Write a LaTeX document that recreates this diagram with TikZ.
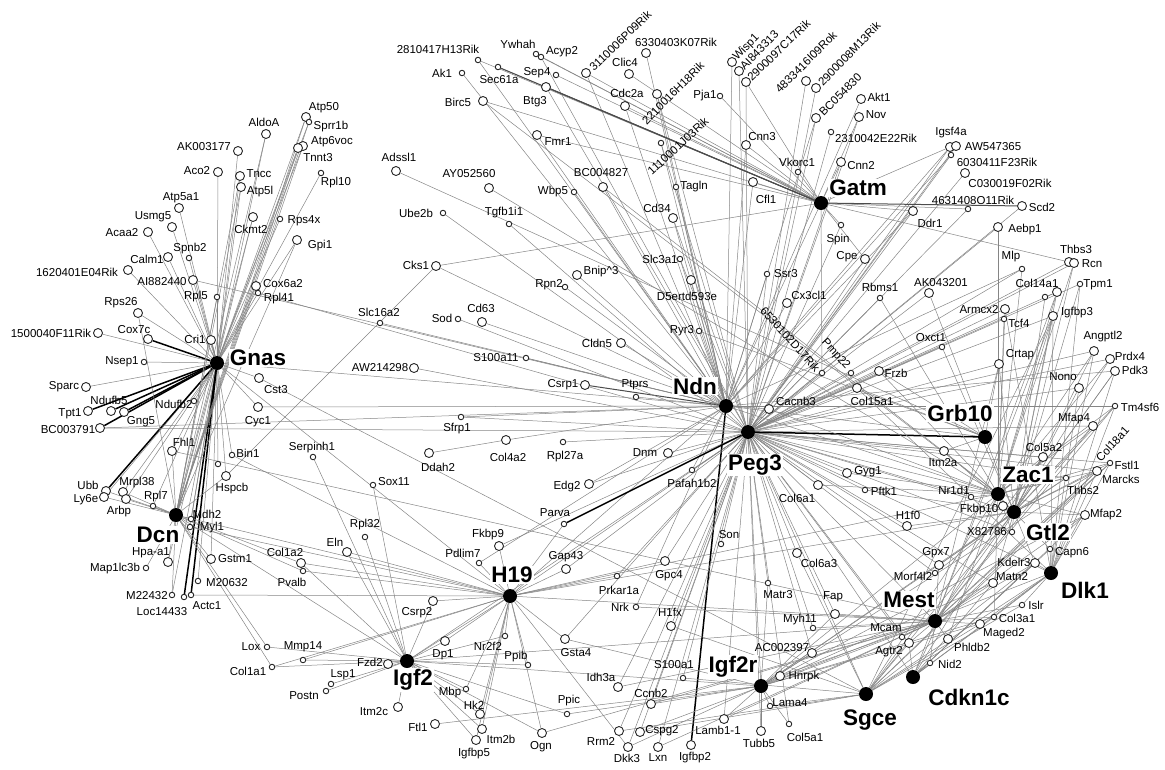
\documentclass[tikz,border=0pt]{standalone}
\usepackage{fontspec}
\setmainfont{Liberation Sans}
\pgfdeclarelayer{bg}
\pgfsetlayers{bg,main}
\begin{document}
\begin{tikzpicture}[x=1pt,y=-1pt,
  gene/.style={circle,draw=black!85,fill=white,line width=0.9pt,inner sep=0pt},
  hub/.style={circle,fill=black,inner sep=0pt,minimum size=14pt},
  lab/.style={font=\fontsize{11.5}{13}\selectfont,inner sep=0pt},
  hublab/.style={font=\bfseries\fontsize{22.5}{24}\selectfont,fill=white,inner sep=1pt},
  edge/.style={draw=black!48,line width=0.5pt},
  strong/.style={draw=black,line width=1.5pt},
  mid/.style={draw=black!70,line width=1pt}]
\useasboundingbox (0,0) rectangle (1165,769);

% hubs
\foreach \nm/\xx/\yy/\lx/\ly in {
Gnas/217/363/258/358,Dcn/176/515/158/535,H19/510/596/512/575,Igf2/407/661/413/680,
Ndn/726/406/695/386,Peg3/748/432/755/465,Gatm/821/203/858/188,Grb10/985/437/960/413,
Zac1/998/494/1028/475,Gtl2/1014/512/1048/532,Dlk1/1051/573/1085/590,Mest/935/621/909/600,
Cdkn1c/913/677/969/697,Sgce/866/694/870/720,Igf2r/761/686/733/667}{
  \node[hub] (\nm) at (\xx,\yy) {};
  \node[hublab] (l\nm) at (\lx,\ly) {\nm};
}

% labelled genes
\foreach \nm/\xx/\yy/\sz/\lx/\ly/\lbl in {
AldoA/266/134/9/264/122/AldoA,
AK003177/238/151/9/204/147/AK003177,
Aco2/218/172/9/197/171/Aco2,
Tncc/240/176/9/259/174/Tncc,
Atp5l/241/187/9/260/192/Atp5l,
Atp5a1/179/208/9/181/198/Atp5a1,
Ckmt2/253/217/9/251/229/Ckmt2,
Rps4x/280/219/5.5/304/221/Rps4x,
Usmg5/172/227/9/153/217/Usmg5,
Acaa2/148/232/9/122/233/Acaa2,
Gpi1/297/240/9/320/246/Gpi1,
Atp50/306/117/9/324/108/Atp50,
Sprr1b/309/122/5.5/331/127/Sprr1b,
Atp6voc/303/146/9/332/142/Atp6voc,
Tnnt3/298/148/9/318/158/Tnnt3,
Rpl10/321/173/5.5/336/183/Rpl10,
Calm1/168/257/9/147/259/Calm1,
Spnb2/189/258/5.5/190/249/Spnb2,
r1620401E04Rik/128/270/9/77/272/1620401E04Rik,
AI882440/193/280/9/162/282/AI882440,
Rpl5/217/297/5.5/196/297/Rpl5,
Cox6a2/256/286/9/283/284/Cox6a2,
Rpl41/258/293/5.5/279/299/Rpl41,
Rps26/138/313/9/121/303/Rps26,
r1500040F11Rik/98/333/9/51/333/1500040F11Rik,
Cox7c/148/339/9/134/330/Cox7c,
Cri1/211/340/9/195/339/Cri1,
Nsep1/144/362/5.5/122/362/Nsep1,
Cst3/259/378/9/276/390/Cst3,
Sparc/86/387/9/64/387/Sparc,
Ndufb5/111/411/9/109/400/Ndufb5,
Tpt1/88/411/9/70/414/Tpt1,
Ndufb2/194/401/5.5/174/404/Ndufb2,
Gng5/124/412/9/141/422/Gng5,
Cyc1/258/407/9/258/422/Cyc1,
BC003791/100/428/9/68/430/BC003791,
Fhl1/172/451/9/184/442/Fhl1,
Bin1/232/455/5.5/248/453/Bin1,
Hspcb/226/476/9/232/489/Hspcb,
Ubb/106/491/9/88/485/Ubb,
Ly6e/104/497/9/86/500/Ly6e,
Mrpl38/123/492/9/137/483/Mrpl38,
Arbp/126/499/9/119/512/Arbp,
Rpl7/153/506/5.5/156/497/Rpl7,
Mdh2/191/519/5.5/207/514/Mdh2,
Myl1/190/527/5.5/212/528/Myl1,
Hpaa1/168/562/9/151/553/Hpa-a1,
Map1lc3b/146/568/5.5/115/569/Map1lc3b,
Gstm1/211/559/9/235/559/Gstm1,
M20632/198/581/5.5/227/583/M20632,
M22432/172/595/5.5/147/596/M22432,
Loc14433/184/597/5.5/162/612/Loc14433,
Actc1/191/595/5.5/207/606/Actc1,
Lox/267/647/5.5/251/647/Lox,
Col1a1/272/667/5.5/248/671/Col1a1,
Adssl1/396/171/9/399/157/Adssl1,
AY052560/489/188/9/469/174/AY052560,
Ube2b/443/213/5.5/416/213/Ube2b,
Tgfb1i1/509/224/5.5/504/213/Tgfb1i1,
Ak1/462/73/5.5/442/73/Ak1,
Birc5/483/101/9/458/102/Birc5,
Fmr1/537/135/9/558/142/Fmr1,
Wbp5/574/192/5.5/553/192/Wbp5,
BC004827/603/187/9/601/173/BC004827,
r2810417H13Rik/478/60/5.5/438/49/2810417H13Rik,
Ywhah/536/54/5.5/518/44/Ywhah,
Acyp2/541/57/5.5/562/52/Acyp2,
Sec61a/498/67/5.5/499/80/Sec61a,
Sep4/556/75/5.5/537/73/Sep4,
Btg3/546/87/9/535/102/Btg3,
Cks1/436/266/9/416/265/Cks1,
Rpn2/565/287/5.5/549/285/Rpn2,
Bnip3/577/275/9/601/272/Bnip\textasciicircum3,
Slc16a2/380/323/5.5/379/312/Slc16a2,
Sod/458/319/5.5/442/318/Sod,
Cd63/482/322/9/481/308/Cd63,
S100a11/526/358/5.5/496/358/S100a11,
AW214298/414/368/9/380/368/AW214298,
Csrp1/585/385/9/563/385/Csrp1,
Ptprs/636/397/5.5/635/385/Ptprs,
Sfrp1/461/417/5.5/457/429/Sfrp1,
Ddah2/429/453/9/438/467/Ddah2,
Col4a2/506/440/9/508/457/Col4a2,
Rpl27a/563/442/5.5/565/457/Rpl27a,
Edg2/589/484/9/567/487/Edg2,
Serpinh1/313/457/5.5/312/448/Serpinh1,
Sox11/373/485/5.5/394/482/Sox11,
Cldn5/621/343/9/597/343/Cldn5,
Slc3a1/680/259/5.5/660/259/Slc3a1,
D5ertd593e/691/280/9/687/296/D5ertd593e,
Ryr3/699/331/5.5/682/331/Ryr3,
Ssr3/767/274/5.5/786/274/Ssr3,
Cx3cl1/787/303/9/809/295/Cx3cl1,
Cacnb3/769/409/9/796/401/Cacnb3,
Dnm/668/453/9/645/453/Dnm,
Pafah1b2/692/470/5.5/692/483/Pafah1b2,
Col6a1/818/485/9/797/498/Col6a1,
Gyg1/847/473/9/868/472/Gyg1,
Pftk1/865/490/5.5/884/491/Pftk1,
Col15a1/857/388/9/872/401/Col15a1,
Cpe/865/259/9/847/257/Cpe,
Spin/841/225/5.5/838/240/Spin,
Cd34/673/218/9/657/208/Cd34,
Tagln/676/187/5.5/694/187/Tagln,
Cfl1/753/182/9/766/199/Cfl1,
Cnn3/746/145/9/762/137/Cnn3,
Vkorc1/798/172/5.5/797/162/Vkorc1,
Pja1/720/96/5.5/705/96/Pja1,
Cdc2a/625/106/9/627/93/Cdc2a,
Clic4/629/74/9/625/62/Clic4,
r6330403K07Rik/646/53/9/676/42/6330403K07Rik,
Cnn2/841/162/9/861/166/Cnn2,
r2310042E22Rik/831/132/5.5/876/138/2310042E22Rik,
Akt1/861/99/9/879/97/Akt1,
Nov/859/117/9/876/115/Nov,
Igsf4a/950/147/9/951/133/Igsf4a,
AW547365/956/146/9/993/147/AW547365,
r6030411F23Rik/951/155/5.5/997/162/6030411F23Rik,
C030019F02Rik/965/173/9/1010/183/C030019F02Rik,
r4631408O11Rik/968/209/5.5/973/200/4631408O11Rik,
Ddr1/913/211/9/930/223/Ddr1,
Scd2/1022/206/9/1042/207/Scd2,
Aebp1/998/227/9/1025/230/Aebp1,
Thbs3/1069/262/9/1076/249/Thbs3,
Rcn/1074/263/9/1092/264/Rcn,
Mlp/1022/269/5.5/1011/257/Mlp,
Rbms1/880/298/5.5/880/287/Rbms1,
AK043201/929/293/9/941/283/AK043201,
Col14a1/1057/292/9/1037/283/Col14a1,
Tpm1/1080/284/5.5/1098/285/Tpm1,
Armcx2/1005/309/9/979/310/Armcx2,
Tcf4/1004/319/5.5/1019/323/Tcf4,
Igfbp3/1053/316/9/1077/313/Igfbp3,
Oxct1/942/347/5.5/931/338/Oxct1,
Angptl2/1094/351/9/1103/337/Angptl2,
Prdx4/1110/359/9/1130/356/Prdx4,
Pdk3/1115/371/9/1135/370/Pdk3,
Crtap/999/364/9/1020/355/Crtap,
Frzb/879/371/9/896/373/Frzb,
Nono/1079/388/9/1063/377/Nono,
Tm4sf6/1115/406/5.5/1140/407/Tm4sf6,
Mfap4/1093/426/9/1074/419/Mfap4,
Col5a2/1043/457/9/1044/447/Col5a2,
Itm2a/944/451/9/943/463/Itm2a,
Fstl1/1110/463/5.5/1127/465/Fstl1,
Marcks/1097/471/9/1121/479/Marcks,
Thbs2/1066/478/5.5/1083/490/Thbs2,
Nr1d1/971/497/5.5/954/490/Nr1d1,
Fkbp10/1003/506/9/979/510/Fkbp10,
Mfap2/1085/515/9/1106/515/Mfap2,
H1f0/907/526/9/908/515/H1f0,
X82786/1012/532/5.5/987/532/X82786,
Gpx7/939/565/9/936/553/Gpx7,
Kdelr3/1035/563/9/1014/562/Kdelr3,
Capn6/1050/549/5.5/1072/553/Capn6,
Morf4l2/935/573/5.5/913/576/Morf4l2,
Matn2/993/583/9/1012/577/Matn2,
Islr/1022/605/5.5/1036/605/Islr,
Col3a1/994/617/5.5/1017/618/Col3a1,
Maged2/980/624/9/1004/634/Maged2,
Mcam/902/637/5.5/886/628/Mcam,
Agtr2/909/643/9/889/652/Agtr2,
Phldb2/948/639/9/972/647/Phldb2,
Nid2/930/663/5.5/950/664/Nid2,
Parva/564/524/5.5/555/513/Parva,
Rpl32/365/537/5.5/365/525/Rpl32,
Fkbp9/499/546/9/488/535/Fkbp9,
Eln/347/552/9/335/542/Eln,
Pdlim7/479/563/5.5/463/553/Pdlim7,
Gap43/566/569/9/566/557/Gap43,
Col1a2/301/563/9/285/552/Col1a2,
Pvalb/303/571/5.5/292/582/Pvalb,
Csrp2/433/601/9/417/613/Csrp2,
Mmp14/303/660/5.5/303/647/Mmp14,
Dp1/445/641/9/443/655/Dp1,
Nr2f2/505/636/5.5/488/646/Nr2f2,
Gsta4/565/639/9/576/653/Gsta4,
Fzd2/388/664/9/370/662/Fzd2,
Lsp1/331/684/5.5/343/675/Lsp1,
Postn/326/691/5.5/304/696/Postn,
Ppib/528/665/5.5/516/657/Ppib,
Mbp/466/689/5.5/450/693/Mbp,
Itm2c/398/707/9/374/712/Itm2c,
Hk2/480/714/9/474/705/Hk2,
Ppic/567/714/5.5/569/701/Ppic,
Ftl1/435/724/9/418/727/Ftl1,
Itm2b/482/729/9/501/739/Itm2b,
Igfbp5/476/740/9/474/754/Igfbp5,
Ogn/542/733/9/541/747/Ogn,
Son/721/544/5.5/729/535/Son,
Col6a3/797/553/9/819/563/Col6a3,
Gpc4/665/561/9/669/576/Gpc4,
Prkar1a/617/576/5.5/619/590/Prkar1a,
Matr3/768/583/5.5/778/595/Matr3,
Nrk/636/607/5.5/620/607/Nrk,
Fap/835/614/9/833/597/Fap,
H1fx/671/626/9/670/612/H1fx,
Myh11/813/628/5.5/800/620/Myh11,
AC002397/812/653/9/782/648/AC002397,
S100a1/683/678/5.5/674/665/S100a1,
Hnrpk/780/676/9/804/677/Hnrpk,
Idh3a/618/687/9/601/677/Idh3a,
Ccnb2/651/704/9/651/693/Ccnb2,
Lama4/770/706/5.5/790/703/Lama4,
Lamb11/724/719/9/718/730/Lamb1-1,
Col5a1/789/724/5.5/805/737/Col5a1,
Tubb5/761/731/9/759/743/Tubb5,
Rrm2/619/731/9/601/741/Rrm2,
Cspg2/640/732/9/662/731/Cspg2,
Dkk3/628/747/9/627/758/Dkk3,
Lxn/658/747/9/658/758/Lxn,
Igfbp2/691/745/9/695/758/Igfbp2}{
  \node[gene,minimum size=\sz pt] (\nm) at (\xx,\yy) {};
  \node[lab] (l\nm) at (\lx,\ly) {\lbl};
}

% genes with rotated or no labels
\foreach \nm/\xx/\yy/\sz in {
u1/218/464/5.5,u2/1045/297/5.5,
r3110006P09Rik/586/73/9,r2210016H18Rik/657/94/9,r1110001J03Rik/661/143/5.5,
Wisp1/732/62/9,AI843313/739/71/9,r2900097C17Rik/746/82/9,r4833416I09Rok/806/81/9,
r2900008M13Rik/816/88/9,BC054830/816/118/9,r6530102D17Rik/822/373/5.5,Pmp22/851/373/5.5}{
  \node[gene,minimum size=\sz pt] (\nm) at (\xx,\yy) {};
}
\node[lab,rotate=44,anchor=west] (l3110006P09Rik) at (591,69) {3110006P09Rik};
\node[lab,rotate=45] (l2210016H18Rik) at (673,93) {2210016H18Rik};
\node[lab,rotate=43] (l1110001J03Rik) at (678,146) {1110001J03Rik};
\node[lab,rotate=46,anchor=west] (lWisp1) at (735,59) {Wisp1};
\node[lab,rotate=46,anchor=west] (lAI843313) at (742,68) {AI843313};
\node[lab,rotate=44,anchor=west] (l2900097C17Rik) at (749,79) {2900097C17Rik};
\node[lab,rotate=45] (l4833416I09Rok) at (806,62) {4833416I09Rok};
\node[lab,rotate=46,anchor=west] (l2900008M13Rik) at (820,84) {2900008M13Rik};
\node[lab,rotate=45,anchor=west] (lBC054830) at (821,114) {BC054830};
\node[lab,rotate=-48,anchor=east] (l6530102D17Rik) at (818,370) {6530102D17Rik};
\node[lab,rotate=-48,anchor=east] (lPmp22) at (848,368) {Pmp22};
\node[lab,rotate=48,anchor=west] (lCol18a1) at (1098,460) {Col18a1};

\begin{pgfonlayer}{bg}
\foreach \g in {AldoA,AK003177,Aco2,Tncc,Atp5l,Atp5a1,Ckmt2,Rps4x,Usmg5,Acaa2,Calm1,Spnb2,Gpi1,Atp50,Sprr1b,Atp6voc,Tnnt3,Rpl10,r1620401E04Rik,AI882440,Rpl5,Cox6a2,Rpl41,Rps26,r1500040F11Rik,Cri1,Nsep1,Cst3,Sparc,Ndufb2,Cyc1,Fhl1,Bin1,Hspcb,u1,Ly6e,Mrpl38,Arbp,Rpl7,Mdh2,Myl1,Hpaa1,Gstm1,M20632,M22432,Dcn,Ndn,H19}
  \draw[edge] (Gnas) -- (\g);
\foreach \g in {Cox7c,Tpt1,Ndufb5,Gng5,BC003791,Ubb,Actc1,Loc14433}
  \draw[strong] (Gnas) -- (\g);
\foreach \g in {Tncc,Atp5l,Ckmt2,Gpi1,Atp50,Sprr1b,Atp6voc,Tnnt3,Rpl5,Cox6a2,Rps26,Fhl1,Hspcb,Ubb,Ly6e,Mrpl38,Arbp,Rpl7,Mdh2,Myl1,Hpaa1,Map1lc3b,Gstm1,M22432,Lox,Col1a1,H19,Igf2,Pvalb,Col1a2,AldoA}
  \draw[edge] (Dcn) -- (\g);
\foreach \g in {Actc1,Myl1,Bin1,Col1a1,Parva,Eln,Col1a2,Pvalb,Fkbp9,Pdlim7,Gap43,Csrp2,Mmp14,Dp1,Nr2f2,Gsta4,Ppib,Mbp,Hk2,Itm2b,Igfbp5,Ogn,Gpc4,Prkar1a,Dkk3,Igf2,Peg3,Mest,Zac1,Gtl2,Ndn}
  \draw[edge] (H19) -- (\g);
\foreach \g in {Serpinh1,Sox11,Rpl32,Eln,Col1a2,Csrp2,Mmp14,Dp1,Nr2f2,Fzd2,Lsp1,Postn,Ppib,Mbp,Itm2c,Hk2,Ppic,Itm2b,Igfbp5,Ogn,Col1a1,Igf2r,Mest,Peg3,Lox}
  \draw[edge] (Igf2) -- (\g);
\foreach \g in {Slc16a2,Cks1,Cd63,Ptprs,Col4a2,Edg2,Pafah1b2,Cyc1,BC003791,AI882440,S100a11,Sfrp1,r2810417H13Rik,Ak1,r3110006P09Rik,r6330403K07Rik,Cdc2a,r2210016H18Rik,r1110001J03Rik,Wisp1,BC054830,Akt1,Cnn3,Cfl1,Tagln,Cd34,Fmr1,BC004827,Wbp5,Bnip3,Rpn2,Slc3a1,D5ertd593e,Ryr3,Cldn5,Ssr3,Cx3cl1,Cacnb3,Igsf4a,r6030411F23Rik,Ddr1,Mlp,Pdk3,Tm4sf6,Pdlim7,Nrk,Peg3,Zac1,Grb10,Gatm}
  \draw[edge] (Ndn) -- (\g);
\draw[mid] (Ndn) -- (Csrp1);
\draw[strong] (Ndn) -- (Igfbp2);
\foreach \g in {Sod,AW214298,Rpl27a,Edg2,Dnm,Pafah1b2,BC003791,Rpl41,Sfrp1,Acyp2,Btg3,r2210016H18Rik,r1110001J03Rik,AI843313,r2900097C17Rik,r4833416I09Rok,r2900008M13Rik,BC054830,Nov,r2310042E22Rik,Cnn2,Cd34,Ube2b,Tgfb1i1,Slc3a1,Ssr3,r6530102D17Rik,Pmp22,Spin,Cpe,Igsf4a,AW547365,r6030411F23Rik,C030019F02Rik,r4631408O11Rik,Ddr1,Scd2,Aebp1,Thbs3,Rcn,Mlp,Rbms1,AK043201,Col14a1,Tpm1,Armcx2,Tcf4,Igfbp3,Oxct1,Angptl2,Prdx4,Crtap,Frzb,Col15a1,Nono,Mfap4,Col5a2,Itm2a,Fstl1,Marcks,Thbs2,Nr1d1,H1f0,Gyg1,Pftk1,Col6a1,X82786,Gpx7,Morf4l2,Matn2,Mcam,Agtr2,Fkbp9,Gap43,Gsta4,Son,Col6a3,Gpc4,Prkar1a,Matr3,Fap,H1fx,Myh11,AC002397,S100a1,Idh3a,Ccnb2,Lamb11,Col5a1,Tubb5,Rrm2,Cspg2,Dkk3,Lxn,Zac1,Mest,Igf2r,Sgce,Dlk1,Gtl2,Cdkn1c}
  \draw[edge] (Peg3) -- (\g);
\draw[strong] (Peg3) -- (Parva);
\draw[strong] (Peg3) -- (Grb10);
\foreach \g in {Cks1,r2810417H13Rik,Ywhah,Acyp2,Sec61a,Sep4,Btg3,Birc5,r3110006P09Rik,Clic4,Cdc2a,Pja1,r2900097C17Rik,Cnn3,Vkorc1,Cnn2,Cfl1,Fmr1,r6530102D17Rik,Spin,Cpe,Igsf4a,r4631408O11Rik,Thbs3,Ddr1,Nov}
  \draw[edge] (Gatm) -- (\g);
\draw[mid] (Gatm) -- (Scd2);
\draw[mid] (Gatm) -- (Btg3);
\draw[mid] (Gatm) -- (Sec61a);
\foreach \g in {Adssl1,Ryr3,Itm2a,Crtap,Col15a1,Frzb}
  \draw[edge] (Grb10) -- (\g);
\foreach \g in {Birc5,BC004827,AY052560,Cacnb3,Aebp1,Rcn,Rbms1,Col14a1,Tcf4,Igfbp3,Prdx4,Crtap,Mfap4,Fstl1,Marcks,Thbs2,Nr1d1,Fkbp10,Mfap2,Gyg1,Col6a1,X82786,Col3a1,Phldb2,Armcx2,Mlp,Col5a2,Tm4sf6,Angptl2}
  \draw[edge] (Zac1) -- (\g);
\foreach \g in {Rcn,AK043201,Col14a1,Tpm1,Oxct1,Angptl2,Pdk3,Frzb,Nono,Col5a2,Itm2a,Fstl1,Marcks,Thbs2,Fkbp10,Mfap2,H1f0,Pftk1,X82786,Gpx7,Kdelr3,Capn6,Morf4l2,Matn2,Igfbp3,Tm4sf6,Prdx4,Mfap4,Crtap,u2}
  \draw[edge] (Gtl2) -- (\g);
\foreach \g in {Armcx2,Angptl2,Col15a1,Tm4sf6,Marcks,Kdelr3,Capn6,Islr,Col3a1,Maged2,Mfap2,Fstl1,Nono,Pdk3,Igfbp3,Tpm1}
  \draw[edge] (Dlk1) -- (\g);
\foreach \g in {Fhl1,Ogn,Nrk,Fap,Myh11,AC002397,Hnrpk,Idh3a,Ccnb2,Lamb11,Cspg2,Lxn,Igfbp3,Crtap,Mfap4,Col5a2,Fstl1,Marcks,Mfap2,Gpx7,Kdelr3,Matn2,Islr,Col3a1,Maged2,Mcam,Agtr2,Phldb2,Nid2,Col14a1,Tm4sf6,Pdk3,Cdkn1c}
  \draw[edge] (Mest) -- (\g);
\foreach \g in {Ppic,Ftl1,Gsta4,Matr3,Fap,AC002397,Hnrpk,Ccnb2,Lama4,Lamb11,Col5a1,Tubb5,Dkk3,Gtl2,Zac1,Dlk1,Col3a1,Maged2,Matn2,Mfap2,Thbs2,Marcks}
  \draw[edge] (Igf2r) -- (\g);
\foreach \g in {Cst3,Col6a3,H1fx,S100a1,Lama4,Rrm2,Cspg2,Maged2,Agtr2,Dlk1,Gtl2,Zac1,Kdelr3,Islr,Fstl1,Marcks,Col5a2,Igfbp3}
  \draw[edge] (Sgce) -- (\g);
\foreach \g in {Nid2,Gtl2,Dlk1,Matn2,Col3a1,Kdelr3,Zac1,Mfap2,Capn6,Agtr2}
  \draw[edge] (Cdkn1c) -- (\g);
\draw[edge] (Hspcb) -- (Cks1);
\draw[edge] (Ddah2) -- (Col4a2);
\draw[edge] (Col14a1) -- (u2);
\end{pgfonlayer}
\end{tikzpicture}
\end{document}
